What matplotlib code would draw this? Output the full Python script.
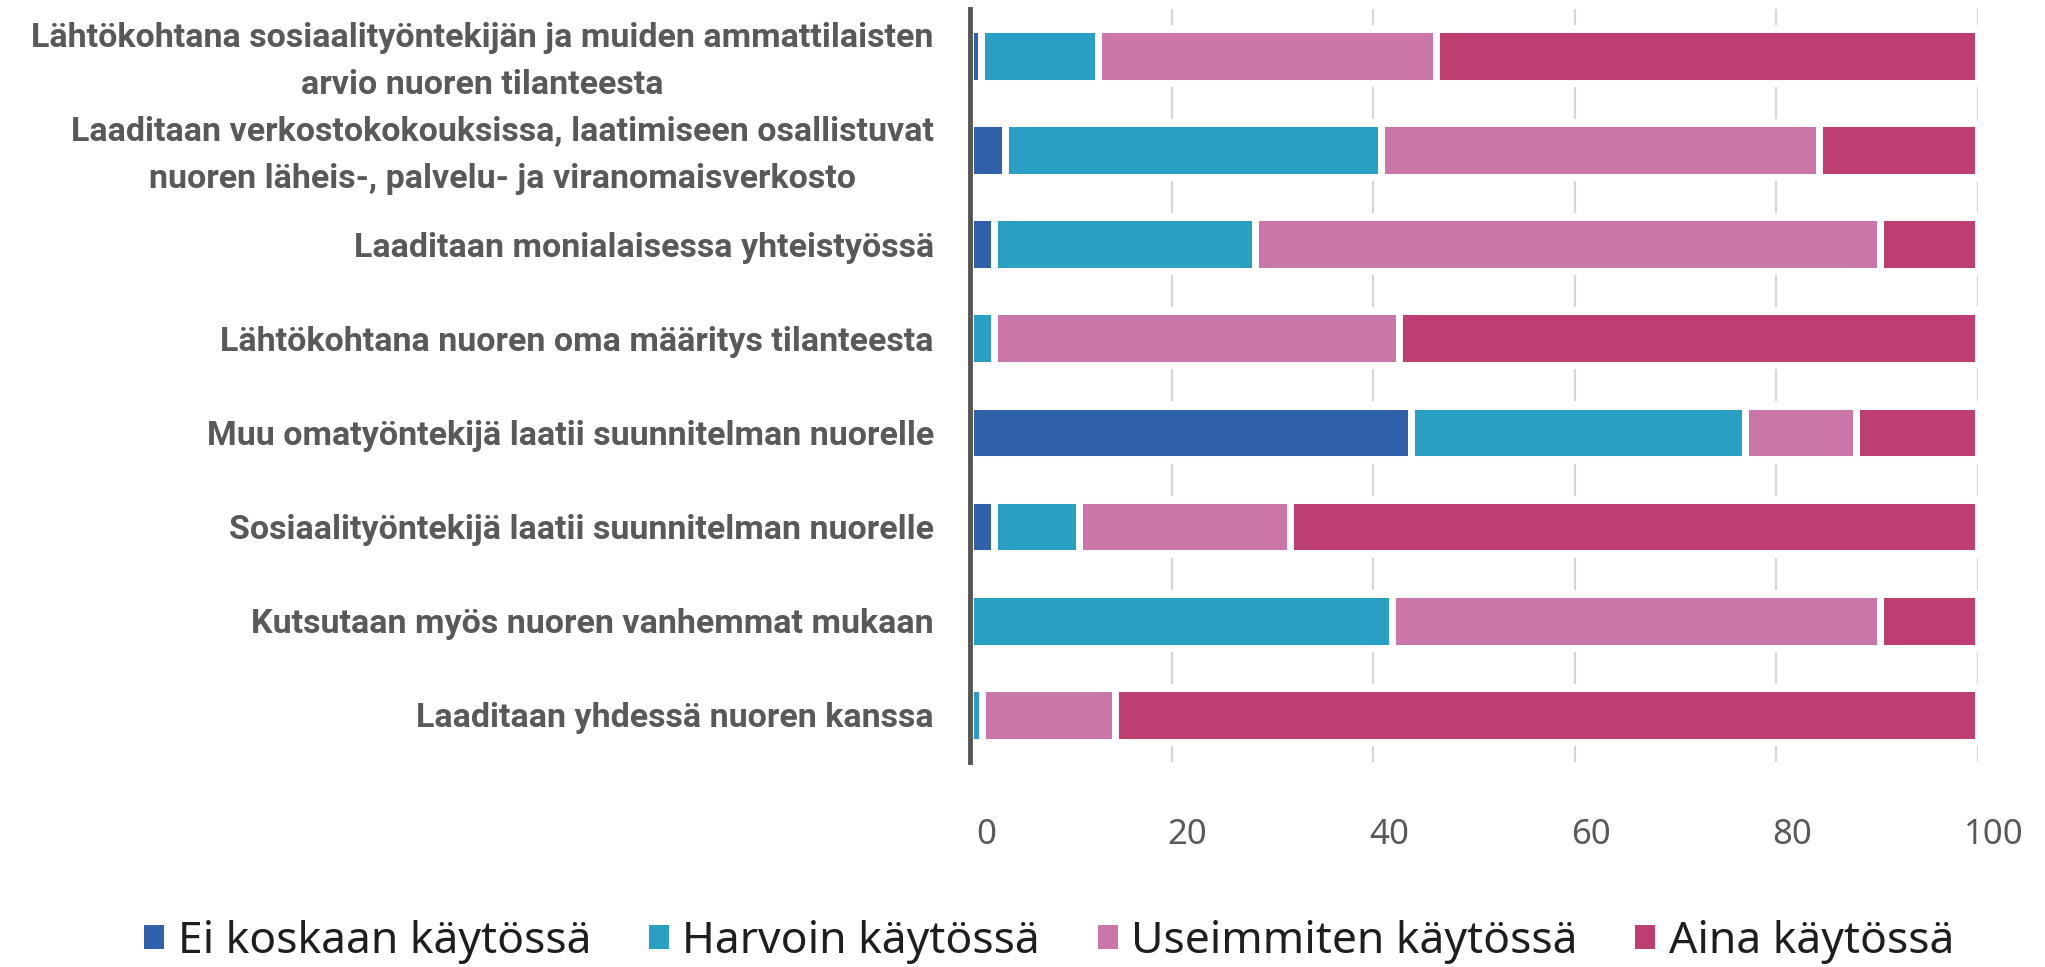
import numpy as np
import matplotlib.pyplot as plt
from matplotlib.patches import Patch
from matplotlib.transforms import ScaledTranslation

plt.rcParams['font.family'] = ['Noto Sans', 'DejaVu Sans']

# Rows from top to bottom
categories = [
    "Lähtökohtana sosiaalityöntekijän ja muiden ammattilaisten\narvio nuoren tilanteesta",
    "Laaditaan verkostokokouksissa, laatimiseen osallistuvat\nnuoren läheis-, palvelu- ja viranomaisverkosto",
    "Laaditaan monialaisessa yhteistyössä",
    "Lähtökohtana nuoren oma määritys tilanteesta",
    "Muu omatyöntekijä laatii suunnitelman nuorelle",
    "Sosiaalityöntekijä laatii suunnitelman nuorelle",
    "Kutsutaan myös nuoren vanhemmat mukaan",
    "Laaditaan yhdessä nuoren kanssa",
]
series_names = ["Ei koskaan käytössä", "Harvoin käytössä", "Useimmiten käytössä", "Aina käytössä"]
ei_koskaan = [1.1, 3.5, 2.4, 0.0, 43.8, 2.4, 0.0, 0.0]
harvoin = [11.6, 37.3, 25.9, 2.4, 33.1, 8.4, 41.9, 1.2]
useimmiten = [33.5, 43.4, 62.0, 40.2, 11.0, 21.0, 48.4, 13.2]
aina = [53.8, 15.8, 9.7, 57.4, 12.1, 68.2, 9.7, 85.6]
xticks = [0, 20, 40, 60, 80, 100]

colors = ["#3161ab", "#29a0c3", "#cb76a8", "#bd3f71"]
series = [ei_koskaan, harvoin, useimmiten, aina]

fig = plt.figure(figsize=(20.45, 9.67), dpi=100)
ax = fig.add_axes([0.4743, 0.2120, 0.4929, 0.7790])

y = np.arange(len(categories))
totals = np.sum(series, axis=0)

# white band behind each bar so the grid lines stop short of the bars
ax.barh(y, totals, height=0.66, color="white", zorder=2)

left = np.zeros(len(categories))
for vals, col in zip(series, colors):
    ax.barh(y, vals, left=left, height=0.57, color=col,
            edgecolor="white", linewidth=5, zorder=3)
    left += np.array(vals)

ax.set_xlim(0, 100)
ax.set_ylim(len(categories) - 0.5, -0.5)
ax.set_xticks(xticks)
ax.set_xticklabels([str(t) for t in xticks])
ax.set_yticks(y)
ax.set_yticklabels(categories, family=["Roboto", "DejaVu Sans"], fontweight="bold",
                   multialignment="center", linespacing=1.6)

for t in [20, 40, 60, 80, 100]:
    ax.axvline(t, color="#d3d6db", linewidth=1.6, zorder=1)

for s in ["top", "right", "bottom"]:
    ax.spines[s].set_visible(False)
ax.spines["left"].set_color("#555555")
ax.spines["left"].set_linewidth(3.5)
ax.spines["left"].set_zorder(5)

ax.tick_params(axis="x", length=0, pad=40, labelsize=25, labelcolor="#595959")
ax.tick_params(axis="y", length=0, pad=26, labelsize=24.5, labelcolor="#595959")
offset = ScaledTranslation(16 / 100, 0, fig.dpi_scale_trans)
for lab in ax.get_xticklabels():
    lab.set_transform(lab.get_transform() + offset)
# two-line labels sit a little higher in the original
lift = ScaledTranslation(0, 5 / 100, fig.dpi_scale_trans)
for lab in ax.get_yticklabels():
    if "\n" in lab.get_text():
        lab.set_transform(lab.get_transform() + lift)

handles = [Patch(facecolor=c, edgecolor="none") for c in colors]
fig.legend(handles, series_names, loc="center", bbox_to_anchor=(0.513, 0.026),
           ncol=4, frameon=False, fontsize=32, handlelength=0.45, handleheight=0.45,
           handletextpad=0.3, columnspacing=1.3, labelcolor="#1e1e1e")

fig.savefig("out.png", dpi=100)
